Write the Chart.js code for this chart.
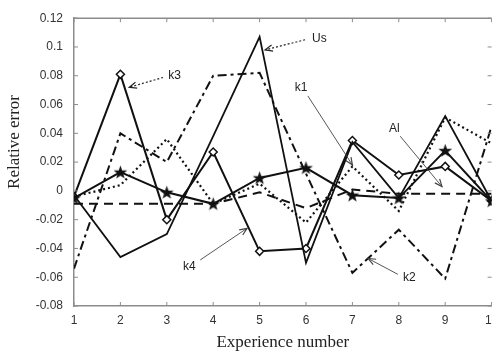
<!DOCTYPE html>
<html>
<head>
<meta charset="utf-8">
<script src="https://cdn.jsdelivr.net/npm/chart.js@4"></script>
<style>
  html, body { margin: 0; padding: 0; background: #fff; overflow: hidden; }
  #wrap { width: 492px; height: 357px; overflow: hidden; }
</style>
</head>
<body>
<div id="wrap"><canvas id="myChart" width="510" height="357"></canvas></div>
<script>
// experience numbers along x
const experiences = [1, 2, 3, 4, 5, 6, 7, 8, 9, 10];

// relative error of each parameter
const usErr = [-0.003, -0.046, -0.030, 0.038, 0.107, -0.050, 0.034, -0.005, 0.052, -0.007];
const k3Err = [-0.004, 0.081, -0.020, 0.027, -0.042, -0.040, 0.035, 0.011, 0.017, -0.007];
const k4Err = [-0.005, 0.013, -0.001, -0.009, 0.009, 0.016, -0.003, -0.005, 0.028, -0.007];
const k1Err = [-0.004, 0.004, 0.036, -0.009, 0.005, -0.022, 0.017, -0.014, 0.051, 0.033];
const k2Err = [-0.054, 0.040, 0.020, 0.080, 0.082, 0.012, -0.057, -0.027, -0.061, 0.045];
const alErr = [-0.009, -0.009, -0.009, -0.009, -0.001, -0.012, 0.001, -0.002, -0.002, -0.002];

const yTicks = [-0.08, -0.06, -0.04, -0.02, 0, 0.02, 0.04, 0.06, 0.08, 0.1, 0.12];

// callouts, in data units
const notes = [
  { text: 'Us', x: 6.13, y: 0.1057, from: [5.98, 0.105], to: [5.12, 0.098], dotted: true },
  { text: 'k3', x: 3.03, y: 0.080, from: [2.92, 0.0788], to: [2.19, 0.072], dotted: true },
  { text: 'k1', x: 5.76, y: 0.072, from: [6.04, 0.066], to: [7.0, 0.018] },
  { text: 'Al', x: 7.79, y: 0.043, from: [8.03, 0.038], to: [8.93, 0.003] },
  { text: 'k4', x: 3.35, y: -0.0525, from: [3.72, -0.048], to: [4.73, -0.026] },
  { text: 'k2', x: 8.09, y: -0.060, from: [7.98, -0.058], to: [7.34, -0.047] }
];

const pts = vals => vals.map((v, i) => ({ x: experiences[i], y: v }));

// filled pentagram marker
const star = document.createElement('canvas');
star.width = 15; star.height = 15;
(function () {
  const c = star.getContext('2d');
  c.fillStyle = '#111';
  c.beginPath();
  for (let i = 0; i < 10; i++) {
    const r = i % 2 === 0 ? 7.2 : 2.9;
    const a = -Math.PI / 2 + i * Math.PI / 5;
    const px = 7.5 + r * Math.cos(a), py = 8 + r * Math.sin(a);
    i === 0 ? c.moveTo(px, py) : c.lineTo(px, py);
  }
  c.closePath();
  c.fill();
})();

const INK = '#111';
const AXIS = '#8c8c8c';
const SERIF = '"Liberation Serif", "Times New Roman", serif';
const SANS = '"Liberation Sans", Arial, sans-serif';

const frame = {
  id: 'frame',
  afterDatasetsDraw(chart) {
    const { ctx, chartArea: a, scales: { x, y } } = chart;
    ctx.save();
    ctx.strokeStyle = AXIS;
    ctx.lineWidth = 1.5;
    ctx.beginPath();
    ctx.moveTo(a.left, a.top); ctx.lineTo(a.right, a.top);
    ctx.stroke();
    // inward ticks
    ctx.lineWidth = 1;
    experiences.forEach(v => {
      const px = x.getPixelForValue(v);
      ctx.beginPath();
      ctx.moveTo(px, a.bottom); ctx.lineTo(px, a.bottom - 4);
      ctx.moveTo(px, a.top); ctx.lineTo(px, a.top + 4);
      ctx.stroke();
    });
    yTicks.forEach(v => {
      const py = y.getPixelForValue(v);
      ctx.beginPath();
      ctx.moveTo(a.left, py); ctx.lineTo(a.left + 4, py);
      ctx.moveTo(a.right, py); ctx.lineTo(a.right - 4, py);
      ctx.stroke();
    });
    // y axis title (sits a little above the middle in the original)
    ctx.fillStyle = '#222';
    ctx.font = '17px ' + SERIF;
    ctx.textAlign = 'center';
    ctx.textBaseline = 'middle';
    ctx.translate(15, 142);
    ctx.rotate(-Math.PI / 2);
    ctx.fillText('Relative error', 0, 0);
    ctx.setTransform(1, 0, 0, 1, 0, 0);
    // callouts
    ctx.font = '12px ' + SANS;
    ctx.textAlign = 'left';
    notes.forEach(n => {
      ctx.fillStyle = '#222';
      ctx.fillText(n.text, x.getPixelForValue(n.x), y.getPixelForValue(n.y));
      const x0 = x.getPixelForValue(n.from[0]), y0 = y.getPixelForValue(n.from[1]);
      const x1 = x.getPixelForValue(n.to[0]), y1 = y.getPixelForValue(n.to[1]);
      ctx.strokeStyle = n.dotted ? '#222' : '#444';
      ctx.lineWidth = n.dotted ? 1.2 : 0.9;
      ctx.setLineDash(n.dotted ? [2, 2] : []);
      ctx.beginPath();
      ctx.moveTo(x0, y0); ctx.lineTo(x1, y1);
      ctx.stroke();
      const ang = Math.atan2(y1 - y0, x1 - x0);
      ctx.setLineDash([]);
      ctx.lineWidth = 1.2;
      ctx.beginPath();
      ctx.moveTo(x1 - 8 * Math.cos(ang - 0.4), y1 - 8 * Math.sin(ang - 0.4));
      ctx.lineTo(x1, y1);
      ctx.lineTo(x1 - 8 * Math.cos(ang + 0.4), y1 - 8 * Math.sin(ang + 0.4));
      ctx.stroke();
    });
    ctx.restore();
  }
};

const line = (label, vals, extra) => Object.assign({
  label: label,
  data: pts(vals),
  borderColor: INK,
  backgroundColor: INK,
  borderWidth: 2,
  pointRadius: 0,
  tension: 0,
  fill: false
}, extra);

new Chart(document.getElementById('myChart').getContext('2d'), {
  type: 'line',
  data: {
    datasets: [
      line('Al', alErr, { borderDash: [9, 6] }),
      line('k2', k2Err, { borderDash: [9, 4, 3, 4] }),
      line('k1', k1Err, { borderDash: [2, 3], borderWidth: 2.2 }),
      line('Us', usErr, { borderWidth: 1.8 }),
      line('k4', k4Err, { pointStyle: star, pointRadius: 6 }),
      line('k3', k3Err, {
        pointStyle: 'rectRot', pointRadius: 4, pointBorderWidth: 1.5,
        pointBackgroundColor: '#fff', pointBorderColor: INK
      })
    ]
  },
  options: {
    responsive: false,
    animation: false,
    devicePixelRatio: 1,
    layout: { padding: { left: 0, top: 9, right: 18.4, bottom: 0 } },
    plugins: { legend: { display: false }, tooltip: { enabled: false } },
    scales: {
      x: {
        type: 'linear', min: 1, max: 10,
        afterFit: s => { s.height = 51; },
        afterBuildTicks: s => { s.ticks = experiences.map(v => ({ value: v })); },
        grid: { display: false, drawTicks: false },
        border: { display: true, color: AXIS, width: 1.5 },
        ticks: { color: '#333', padding: 7, font: { family: SANS, size: 12 } },
        title: {
          display: true, text: 'Experience number', color: '#222',
          font: { family: SERIF, size: 17 },
          padding: { top: 0, bottom: 4 }
        }
      },
      y: {
        min: -0.08, max: 0.12,
        afterFit: s => { s.width = 74; },
        afterBuildTicks: s => { s.ticks = yTicks.map(v => ({ value: v })); },
        grid: { display: false, drawTicks: false },
        border: { display: true, color: AXIS, width: 1.5 },
        ticks: {
          color: '#333', padding: 11,
          font: { family: SANS, size: 12 },
          callback: v => String(Number(v.toFixed(2)))
        }
      }
    }
  },
  plugins: [frame]
});
</script>
</body>
</html>
